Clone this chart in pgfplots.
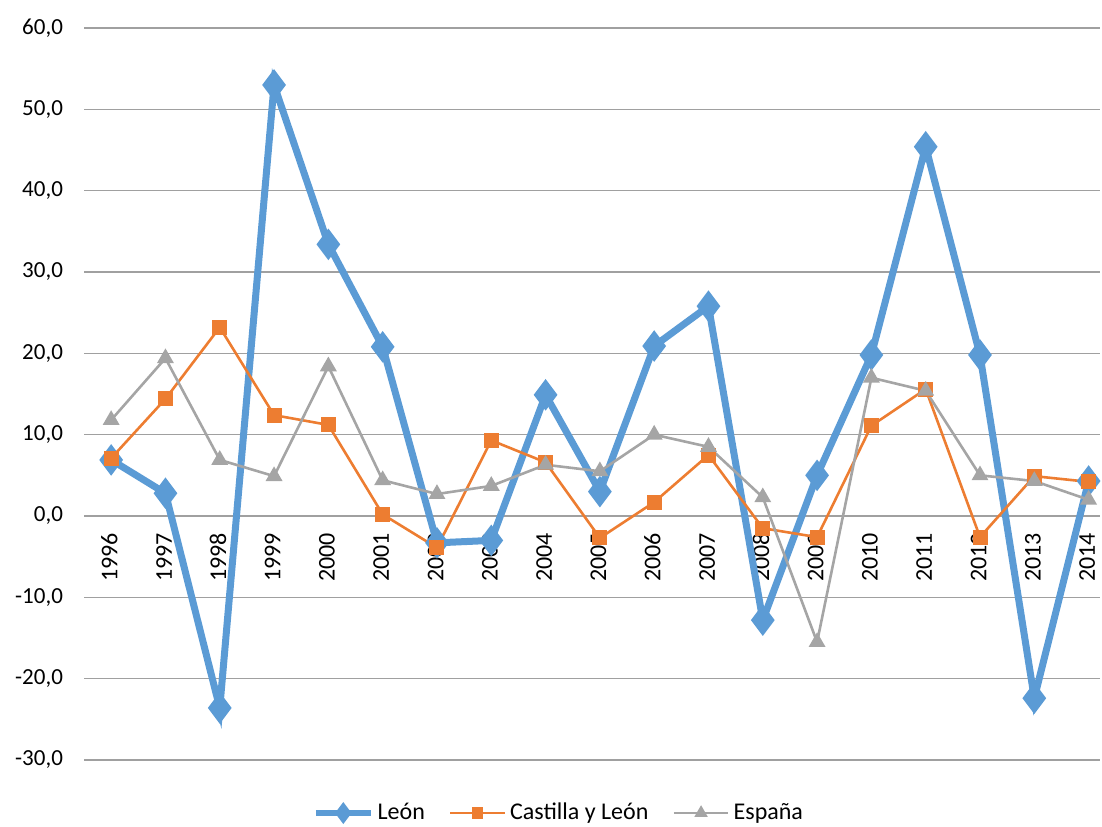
\documentclass[border=0pt]{standalone}
\usepackage{pgfplots}
\pgfplotsset{compat=1.18}
\usepackage{fontspec}
\setmainfont{Carlito}
\definecolor{leon}{HTML}{5B9BD5}
\definecolor{cyl}{HTML}{ED7D31}
\definecolor{esp}{HTML}{A5A5A5}
\definecolor{grid}{HTML}{A0A0A0}
\begin{document}
\begin{tikzpicture}
\begin{axis}[
    scale only axis,
    width=508pt, height=366pt,
    xmin=-0.5, xmax=18.21,
    ymin=-30, ymax=60,
    ytick={-30,-20,...,60},
    xtick={0,...,18},
    xticklabels={1996,1997,1998,1999,2000,2001,2002,2003,2004,2005,2006,2007,2008,2009,2010,2011,2012,2013,2014},
    axis x line=middle,
    axis y line=left,
    x axis line style={draw=grid, -},
    y axis line style={draw=none},
    major tick length=0pt,
    ymajorgrids,
    grid style={draw=grid, line width=0.6pt},
    font=\fontsize{11.5}{13}\selectfont,
    xticklabel style={yshift=-5pt, rotate=90, anchor=east, text height=0.63em, text depth=0pt,
        font=\fontsize{12}{13}\selectfont},
    yticklabel style={xshift=-7pt},
    /pgf/number format/.cd, use comma, fixed, fixed zerofill, precision=1, assume math mode=true,
    /pgfplots/.cd,
    legend columns=3,
    legend style={at={(0.4685,-0.0724)}, anchor=center, draw=none, font=\fontsize{12}{14}\selectfont,
        /tikz/every even column/.append style={column sep=10pt}},
    legend image code/.code={
        \draw[mark repeat=2, mark phase=2] plot coordinates {(0cm,0cm) (0.48cm,0cm) (0.96cm,0cm)};
    },
]
% legend entries with smaller marks
\addlegendimage{leon, line width=3pt, mark=diamond*, mark size=3pt, mark options={solid}}
\addlegendentry{León}
\addlegendimage{cyl, line width=1.3pt, mark=square*, mark size=2.2pt}
\addlegendentry{Castilla y León}
\addlegendimage{esp, line width=1.3pt, mark=triangle*, mark size=2.6pt}
\addlegendentry{España}

\addplot[forget plot, leon, line width=3.5pt, mark=diamond*, mark size=5pt, mark options={solid}] coordinates {
(0,6.9) (1,2.8) (2,-23.6) (3,53.0) (4,33.4) (5,20.8) (6,-3.3) (7,-3.0) (8,14.9) (9,3.0)
(10,20.9) (11,25.8) (12,-12.8) (13,5.0) (14,19.8) (15,45.4) (16,19.8) (17,-22.4) (18,4.3)
};
\addplot[forget plot, cyl, line width=1.3pt, mark=square*, mark size=3.1pt] coordinates {
(0,7.1) (1,14.4) (2,23.2) (3,12.4) (4,11.2) (5,0.2) (6,-3.9) (7,9.3) (8,6.6) (9,-2.7)
(10,1.7) (11,7.5) (12,-1.5) (13,-2.6) (14,11.1) (15,15.6) (16,-2.6) (17,4.9) (18,4.2)
};
\addplot[forget plot, esp, line width=1.3pt, mark=triangle*, mark size=3.6pt] coordinates {
(0,11.8) (1,19.4) (2,6.9) (3,4.9) (4,18.4) (5,4.4) (6,2.7) (7,3.7) (8,6.3) (9,5.5)
(10,10.0) (11,8.5) (12,2.3) (13,-15.5) (14,17.0) (15,15.4) (16,5.0) (17,4.3) (18,2.0)
};
\end{axis}
\pgfresetboundingbox
\path[use as bounding box] (-42pt,-33pt) rectangle (509pt,380pt);
\end{tikzpicture}
\end{document}
